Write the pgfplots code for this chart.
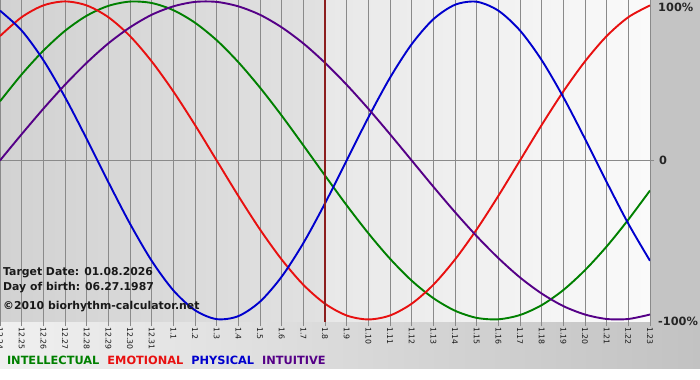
\documentclass[border=0pt]{standalone}
\usepackage{fontspec}
\setmainfont{DejaVu Sans}
\usepackage{pgfplots}
\pgfplotsset{compat=1.18}
\usepackage{pgfplotstable}
\definecolor{cint}{RGB}{0,128,0}
\definecolor{cemo}{RGB}{232,16,16}
\definecolor{cphy}{RGB}{0,0,205}
\definecolor{cintu}{RGB}{85,0,135}
\definecolor{ctarget}{RGB}{140,30,30}
\definecolor{cgrid}{RGB}{138,138,138}
\definecolor{cmargin}{RGB}{196,196,196}

% day index (0 = 12.24 ... 30 = 1.23), values in percent
\pgfplotstableread{
i  phys   emo    intel  intu
0  94.2   78.2   37.2   0
1  81.7   90.1   54.1   16.5
2  63.1   97.5   69.0   32.5
3  39.8   100    81.5   47.6
4  13.6   97.5   91.0   61.4
5  -13.6  90.1   97.2   73.6
6  -39.8  78.2   99.9   83.7
7  -63.1  62.3   99.0   91.6
8  -81.7  43.4   94.5   96.9
9  -94.2  22.3   86.6   99.7
10 -99.8  0      75.6   99.7
11 -97.9  -22.3  61.8   96.9
12 -88.8  -43.4  45.8   91.6
13 -73.1  -62.3  28.2   83.7
14 -52.0  -78.2  9.5    73.6
15 -27.0  -90.1  -9.5   61.4
16 0      -97.5  -28.2  47.6
17 27.0   -100   -45.8  32.5
18 52.0   -97.5  -61.8  16.5
19 73.1   -90.1  -75.6  0
20 88.8   -78.2  -86.6  -16.5
21 97.9   -62.3  -94.5  -32.5
22 99.8   -43.4  -99.0  -47.6
23 94.2   -22.3  -99.9  -61.4
24 81.7   0      -97.2  -73.6
25 63.1   22.3   -91.0  -83.7
26 39.8   43.4   -81.5  -91.6
27 13.6   62.3   -69.0  -96.9
28 -13.6  78.2   -54.1  -99.7
29 -39.8  90.1   -37.2  -99.7
30 -63.1  97.5   -18.9  -96.9
}\bio

\begin{document}
\begin{tikzpicture}
\fill[white] (0bp,0bp) rectangle (700bp,380bp);
\fill[cmargin] (650bp,58bp) rectangle (700bp,380bp);
\shade[left color={rgb,255:red,240;green,240;blue,240}, right color={rgb,255:red,194;green,194;blue,194}] (0bp,11bp) rectangle (700bp,58bp);
\shade[left color={rgb,255:red,210;green,210;blue,210}, right color={rgb,255:red,225;green,225;blue,225}] (0bp,58bp) rectangle (325bp,380bp);
\shade[left color={rgb,255:red,232;green,232;blue,232}, right color={rgb,255:red,250;green,250;blue,250}] (325bp,58bp) rectangle (650bp,380bp);
\begin{axis}[
  at={(0bp,58bp)}, anchor=south west,
  scale only axis, width=650bp, height=322bp,
  xmin=0, xmax=30, ymin=-101.6, ymax=100.9,
  axis line style={draw=none},
  tick align=outside,
  xtick pos=bottom, ytick pos=right, yticklabel pos=right,
  xtick={0,...,30},
  xticklabels={12.24,12.25,12.26,12.27,12.28,12.29,12.30,12.31,1.1,1.2,1.3,1.4,1.5,1.6,1.7,1.8,1.9,1.10,1.11,1.12,1.13,1.14,1.15,1.16,1.17,1.18,1.19,1.20,1.21,1.22,1.23},
  xmajorgrids, ymajorgrids,
  grid style={cgrid, line width=0.9bp},
  major tick length=4bp,
  tick style={cgrid, line width=0.9bp},
  xticklabel style={rotate=-90, anchor=west, font=\fontsize{7.8}{9}\selectfont, text=black!90, inner sep=1.2bp},
  ytick={0}, yticklabels={0},
  extra y ticks={96.5,-101.5},
  extra y tick labels={100\%,-100\%},
  yticklabel style={anchor=west, font=\bfseries\fontsize{11.4}{13}\selectfont, text=black!85, inner sep=0pt, xshift=5bp},
  extra y tick style={grid=none, major tick length=0pt, yticklabel style={xshift=3bp}},
  legend columns=4,
  legend image code/.code={},
  legend style={at={(0.0108,-0.1227)}, anchor=west, draw=none, fill=none, inner sep=0pt, outer sep=0pt,
    font=\bfseries\fontsize{11.4}{13}\selectfont, nodes={inner sep=0pt},
    /tikz/every even column/.append style={column sep=8bp}},
]
\addplot[cint, line width=1.9bp, smooth] table[x=i, y=intel] {\bio};
\addlegendentry{\textcolor{cint}{INTELLECTUAL}}
\addplot[cemo, line width=1.9bp, smooth] table[x=i, y=emo] {\bio};
\addlegendentry{\textcolor{cemo}{EMOTIONAL}}
\addplot[cphy, line width=1.9bp, smooth] table[x=i, y=phys] {\bio};
\addlegendentry{\textcolor{cphy}{PHYSICAL}}
\addplot[cintu, line width=1.9bp, smooth] table[x=i, y=intu] {\bio};
\addlegendentry{\textcolor{cintu}{INTUITIVE}}
\addplot[ctarget, line width=2bp, forget plot] coordinates {(15,-101.6) (15,100.9)};
\end{axis}
\begin{scope}[every node/.style={anchor=base west, inner sep=0pt, text=black!90, font=\bfseries\fontsize{10.9}{13}\selectfont}]
\node at (3bp,104bp) {Target Date: 01.08.2026};
\node at (3bp,89bp) {Day of birth: 06.27.1987};
\node at (3bp,70bp) {©2010 biorhythm-calculator.net};
\end{scope}
\pgfresetboundingbox
\useasboundingbox (0bp,0bp) rectangle (700bp,380bp);
\end{tikzpicture}
\end{document}
